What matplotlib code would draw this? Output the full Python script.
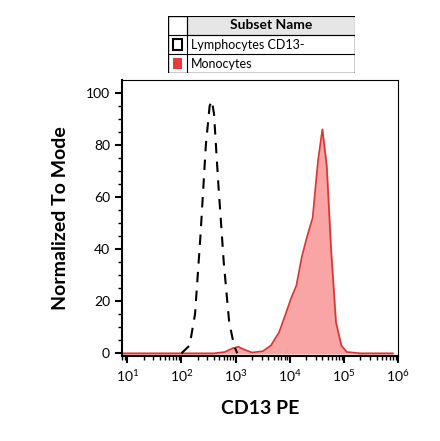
import matplotlib
matplotlib.use("Agg")
import matplotlib.pyplot as plt
import numpy as np
from matplotlib.patches import Rectangle

plt.rcParams['font.family'] = ['Lato', 'DejaVu Sans']

lym_logx = [2.0, 2.15, 2.25, 2.35, 2.45, 2.52, 2.56, 2.6, 2.68, 2.78, 2.88, 2.97, 3.03]
lym_y    = [0, 3, 15, 45, 80, 95, 97, 92, 65, 35, 12, 3, 0]
mono_logx = [0.9, 2.6, 2.8, 2.95, 3.05, 3.15, 3.3, 3.5, 3.65, 3.8, 3.92, 4.02, 4.12, 4.22, 4.32, 4.42, 4.52, 4.6, 4.68, 4.76, 4.85, 4.95, 5.05, 5.3, 5.9]
mono_y    = [0, 0, 0.5, 2, 2.5, 1.5, 0.3, 0.8, 3, 8, 15, 21, 26, 37, 45, 52, 74, 86, 72, 40, 12, 3, 0.5, 0, 0]

fig = plt.figure(figsize=(4.4, 4.41), dpi=100)
ax = fig.add_axes([0.277, 0.193, 0.628, 0.626])
xl = 10 ** np.array(lym_logx)
xm = 10 ** np.array(mono_logx)
ax.fill_between(xm, mono_y, color='#f9a5a5', zorder=1)
ax.plot(xm, mono_y, color='#d93636', lw=1.2, zorder=2)
ax.plot(xl, lym_y, color='black', lw=1.5, ls=(0, (5, 4)), zorder=3)
ax.set_xscale('log')
ax.set_xlim(10 ** 0.9, 10 ** 5.9)
ax.set_ylim(-1, 105)
ax.set_yticks([0, 20, 40, 60, 80, 100])
ax.set_yticks(np.arange(0, 101, 5), minor=True)
ax.set_xticks([10, 100, 1e3, 1e4, 1e5, 1e6])
ax.tick_params(axis='both', which='major', direction='out', length=5, width=1.5, labelsize=10)
ax.tick_params(axis='both', which='minor', direction='out', length=3, width=1)
ax.set_xlabel('CD13 PE', fontsize=14, fontweight='bold', labelpad=12)
ax.set_ylabel('Normalized To Mode', fontsize=14, fontweight='bold', labelpad=12)
for s in ax.spines.values():
    s.set_linewidth(0.8)
ax.spines['bottom'].set_linewidth(1.5)
ax.spines['left'].set_linewidth(1.5)

# legend table
lg = fig.add_axes([0.382, 0.834, 0.425, 0.13])
lg.set_xlim(0, 1); lg.set_ylim(0, 3)
lg.axis('off')
lg.add_patch(Rectangle((0, 0), 1, 3, fill=False, lw=1, ec='black'))
lg.add_patch(Rectangle((0.1, 2), 0.9, 1, fc='#e6e6e6', ec='black', lw=0.8))
lg.plot([0.1, 0.1], [0, 3], color='black', lw=0.8)
lg.plot([0, 1], [2, 2], color='black', lw=0.8)
lg.plot([0, 1], [1, 1], color='black', lw=0.8)
lg.text(0.55, 2.5, 'Subset Name', ha='center', va='center', fontsize=10, fontweight='bold')
lg.add_patch(Rectangle((0.025, 1.2), 0.05, 0.6, fc='white', ec='black', lw=1.5))
lg.add_patch(Rectangle((0.025, 0.2), 0.05, 0.6, fc='#e8393b', ec='none'))
lg.text(0.12, 1.5, 'Lymphocytes CD13-', ha='left', va='center', fontsize=9)
lg.text(0.12, 0.5, 'Monocytes', ha='left', va='center', fontsize=9)
fig.savefig('out.png', dpi=100)
